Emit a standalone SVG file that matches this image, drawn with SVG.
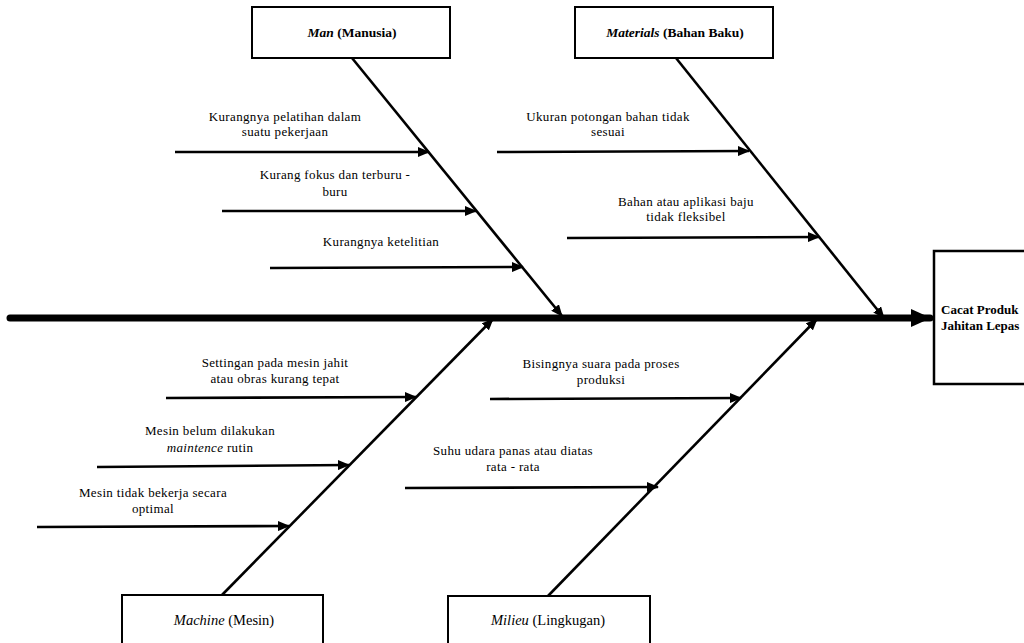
<svg xmlns="http://www.w3.org/2000/svg" width="1024" height="643" viewBox="0 0 1024 643">
<style>
.box{fill:#fff;stroke:#000;stroke-width:2}
.sub{stroke:#000;stroke-width:2.6;fill:none;marker-end:url(#ah)}
.lbl{font-family:'Liberation Serif','Times New Roman','DejaVu Serif',serif;font-size:13px;letter-spacing:0.35px;fill:#000;text-anchor:middle}
.cat{font-family:'Liberation Serif','Times New Roman','DejaVu Serif',serif;font-size:13.5px;fill:#000;text-anchor:middle}
.catb{font-family:'Liberation Serif','Times New Roman','DejaVu Serif',serif;font-size:14.5px;fill:#000;text-anchor:middle}
.eff{font-family:'Liberation Serif','Times New Roman','DejaVu Serif',serif;font-size:13px;font-weight:bold;fill:#000}
</style>
<defs>
<marker id="ah" markerWidth="12" markerHeight="10" refX="11" refY="5" orient="auto" markerUnits="userSpaceOnUse">
<path d="M0,0 L12,5 L0,10 Z" fill="#000"/>
</marker>
<marker id="big" markerWidth="20" markerHeight="18" refX="19" refY="9" orient="auto" markerUnits="userSpaceOnUse">
<path d="M0,0 L20,9 L0,18 Z" fill="#000"/>
</marker>
</defs>
<rect width="1024" height="643" fill="#fff"/>

<g id="connectors">
<line x1="10" y1="318" x2="930" y2="318" stroke="#000" stroke-width="7" stroke-linecap="round" marker-end="url(#big)"/>
<line class="sub" x1="352" y1="58" x2="562" y2="316"/>
<line class="sub" x1="676" y1="58" x2="884" y2="318"/>
<line class="sub" x1="222" y1="595" x2="493" y2="319"/>
<line class="sub" x1="548" y1="596" x2="817" y2="319"/>

<line class="sub" x1="175" y1="152" x2="429" y2="152"/>
<line class="sub" x1="222" y1="211" x2="476" y2="211"/>
<line class="sub" x1="270" y1="268" x2="523" y2="267"/>
<line class="sub" x1="497" y1="152" x2="749" y2="151"/>
<line class="sub" x1="567" y1="238" x2="819" y2="237"/>
<line class="sub" x1="166" y1="398" x2="416" y2="397"/>
<line class="sub" x1="97" y1="467" x2="349" y2="465"/>
<line class="sub" x1="37" y1="527" x2="289" y2="526"/>
<line class="sub" x1="490" y1="399" x2="741" y2="398"/>
<line class="sub" x1="405" y1="488" x2="658" y2="487"/>
</g>

<g id="man">
<rect class="box" x="252" y="7" width="198" height="51"/>
<text class="cat" x="352" y="37" font-weight="bold"><tspan font-style="italic">Man</tspan> (Manusia)</text>
</g>
<g id="materials">
<rect class="box" x="575" y="7" width="198" height="51"/>
<text class="cat" x="675" y="37" font-weight="bold"><tspan font-style="italic">Materials</tspan> (Bahan Baku)</text>
</g>
<g id="machine">
<rect class="box" x="122" y="595" width="201" height="60"/>
<text class="catb" x="224" y="625"><tspan font-style="italic">Machine</tspan> (Mesin)</text>
</g>
<g id="milieu">
<rect class="box" x="448" y="596" width="202" height="60"/>
<text class="catb" x="548" y="625"><tspan font-style="italic">Milieu</tspan> (Lingkugan)</text>
</g>
<g id="effect">
<rect x="934" y="251" width="110" height="133" fill="#fff" stroke="#000" stroke-width="2.5"/>
<text class="eff" x="941" y="314">Cacat Produk</text>
<text class="eff" x="941" y="330">Jahitan Lepas</text>
</g>

<g id="cause-man">
<text class="lbl" x="285" y="121">Kurangnya pelatihan dalam</text>
<text class="lbl" x="285" y="136">suatu pekerjaan</text>
<text class="lbl" x="335" y="179">Kurang fokus dan terburu -</text>
<text class="lbl" x="335" y="196">buru</text>
<text class="lbl" x="381" y="246">Kurangnya ketelitian</text>
</g>
<g id="cause-materials">
<text class="lbl" x="608" y="121">Ukuran potongan bahan tidak</text>
<text class="lbl" x="608" y="136">sesuai</text>
<text class="lbl" x="686" y="206">Bahan atau aplikasi baju</text>
<text class="lbl" x="686" y="221">tidak fleksibel</text>
</g>
<g id="cause-machine">
<text class="lbl" x="275" y="367">Settingan pada mesin jahit</text>
<text class="lbl" x="275" y="383">atau obras kurang tepat</text>
<text class="lbl" x="210" y="435">Mesin belum dilakukan</text>
<text class="lbl" x="210" y="452"><tspan font-style="italic">maintence</tspan> rutin</text>
<text class="lbl" x="153" y="497">Mesin tidak bekerja secara</text>
<text class="lbl" x="153" y="513">optimal</text>
</g>
<g id="cause-milieu">
<text class="lbl" x="601" y="368">Bisingnya suara pada proses</text>
<text class="lbl" x="601" y="384">produksi</text>
<text class="lbl" x="513" y="455">Suhu udara panas atau diatas</text>
<text class="lbl" x="513" y="471">rata - rata</text>
</g>
</svg>
